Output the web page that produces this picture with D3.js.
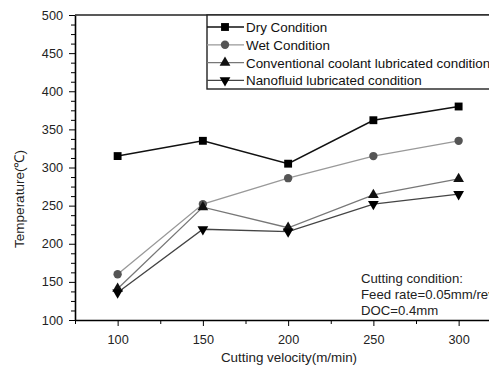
<!DOCTYPE html>
<html>
<head>
<meta charset="utf-8">
<script src="https://cdn.jsdelivr.net/npm/d3@7"></script>
<style>
  body { margin: 0; background: #fff; }
  svg { font-family: "Liberation Sans", Arial, sans-serif; }
  .axis path, .axis line { stroke: #000; }
  .axis text { font-size: 12.7px; fill: #222; }
</style>
</head>
<body>
<script>
'use strict'

const velocities = [100, 150, 200, 250, 300];
const dryTemp = [315, 335, 305, 362, 380];
const wetTemp = [160, 252, 286, 315, 335];
const conventionalTemp = [141, 248, 221, 264, 285];
const nanofluidTemp = [136, 219, 216, 252, 265];
const seriesNames = ["Dry Condition", "Wet Condition", "Conventional coolant lubricated condition", "Nanofluid lubricated condition"];
const yTicks = [100, 150, 200, 250, 300, 350, 400, 450, 500];
const noteLines = ["Cutting condition:", "Feed rate=0.05mm/rev", "DOC=0.4mm"];

const w = 489;
const h = 366;
const padLeft = 75, padTop = 15, padBottom = 320;

const xScale = d3.scaleLinear().domain([75, 325]).range([padLeft, padLeft + 426.25]);
const yScale = d3.scaleLinear().domain([100, 500]).range([padBottom, padTop]);

const styles = [
	{ line: "#111", fill: "#000", symbol: d3.symbolSquare, size: 62, rot: 0, width: 1.5 },
	{ line: "#999", fill: "#555", symbol: d3.symbolCircle, size: 55, rot: 0, width: 1.3 },
	{ line: "#777", fill: "#111", symbol: d3.symbolTriangle, size: 50, rot: 0, width: 1.3 },
	{ line: "#444", fill: "#000", symbol: d3.symbolTriangle, size: 50, rot: 180, width: 1.3 }
];
const allSeries = [dryTemp, wetTemp, conventionalTemp, nanofluidTemp];

const svg = d3.select("body").append("svg")
	.attr("width", w)
	.attr("height", h);

// minor ticks
const yMinor = d3.range(100, 500, 12.5).filter(v => v % 50 !== 0);
svg.append("g")
	.attr("class", "axis")
	.attr("transform", "translate(" + padLeft + ",0)")
	.call(d3.axisLeft(yScale).tickValues(yMinor).tickSize(4).tickFormat(""))
	.select(".domain").remove();

const xMinor = d3.range(75, 326, 25).filter(v => v % 50 !== 0);
svg.append("g")
	.attr("class", "axis")
	.attr("transform", "translate(0," + padBottom + ")")
	.call(d3.axisBottom(xScale).tickValues(xMinor).tickSize(4).tickFormat(""))
	.select(".domain").remove();

// main axes
svg.append("g")
	.attr("class", "axis")
	.attr("transform", "translate(" + padLeft + ",0)")
	.call(d3.axisLeft(yScale).tickValues(yTicks).tickSize(6).tickSizeOuter(0).tickPadding(6))
	.select(".domain").attr("stroke-width", 1.6);

svg.append("g")
	.attr("class", "axis")
	.attr("transform", "translate(0," + padBottom + ")")
	.call(d3.axisBottom(xScale).tickValues(velocities).tickSize(6).tickSizeOuter(0).tickPadding(9))
	.select(".domain").attr("stroke-width", 1.6);

// top frame
svg.append("line")
	.attr("x1", padLeft).attr("x2", w)
	.attr("y1", padTop).attr("y2", padTop)
	.attr("stroke", "#222").attr("stroke-width", 1.4);

// series
const line = d3.line().x((d, i) => xScale(velocities[i])).y(d => yScale(d));
allSeries.forEach((vals, k) => {
	const s = styles[k];
	svg.append("path")
		.attr("d", line(vals))
		.attr("fill", "none")
		.attr("stroke", s.line)
		.attr("stroke-width", s.width);
	svg.selectAll(".m" + k)
		.data(vals)
		.enter()
		.append("path")
		.attr("class", "m" + k)
		.attr("d", d3.symbol().type(s.symbol).size(s.size))
		.attr("fill", s.fill)
		.attr("transform", (d, i) => "translate(" + xScale(velocities[i]) + "," + yScale(d) + ") rotate(" + s.rot + ")");
});

// legend
const lg = svg.append("g");
lg.append("rect")
	.attr("x", 207).attr("y", padTop)
	.attr("width", 300).attr("height", 74)
	.attr("fill", "#fff").attr("stroke", "#222").attr("stroke-width", 1.4);
seriesNames.forEach((name, k) => {
	const s = styles[k];
	const yy = 27 + k * 17.8;
	lg.append("line")
		.attr("x1", 207).attr("x2", 244)
		.attr("y1", yy).attr("y2", yy)
		.attr("stroke", s.line).attr("stroke-width", s.width);
	lg.append("path")
		.attr("d", d3.symbol().type(s.symbol).size(s.size)())
		.attr("fill", s.fill)
		.attr("transform", "translate(225," + yy + ") rotate(" + s.rot + ")");
	lg.append("text")
		.attr("x", 246).attr("y", yy + 5)
		.attr("font-size", 13.4)
		.attr("fill", "#111")
		.text(name);
});

// note
noteLines.forEach((t, i) => {
	svg.append("text")
		.attr("x", 361).attr("y", 283 + i * 16)
		.attr("font-size", 13.2)
		.attr("fill", "#222")
		.text(t);
});

// axis titles
svg.append("text")
	.attr("transform", "rotate(-90)")
	.attr("x", -199)
	.attr("y", 24)
	.attr("text-anchor", "middle")
	.attr("font-size", 13.5)
	.attr("fill", "#222")
	.text("Temperature(℃)");

svg.append("text")
	.attr("x", 289)
	.attr("y", 362)
	.attr("text-anchor", "middle")
	.attr("font-size", 13.4)
	.attr("fill", "#222")
	.text("Cutting velocity(m/min)");
</script>
</body>
</html>
